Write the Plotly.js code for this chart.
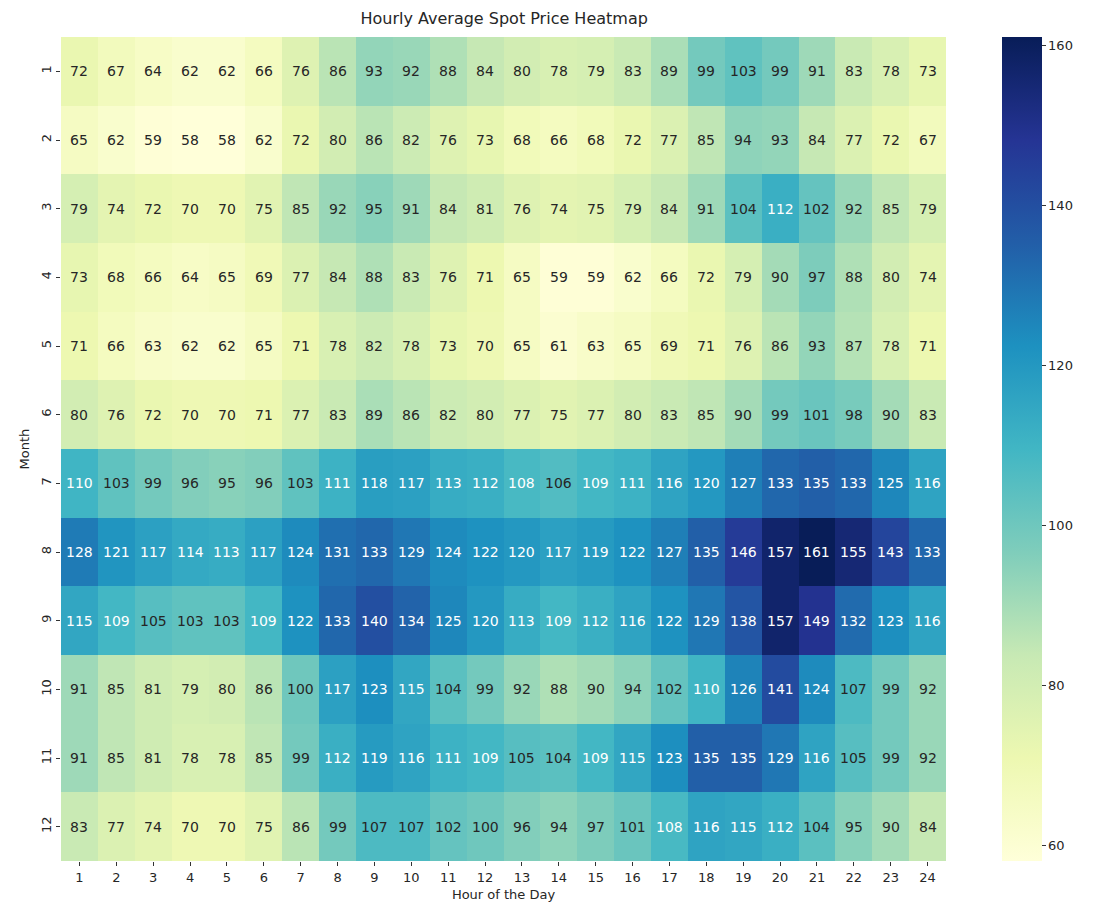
<!DOCTYPE html>
<html>
<head>
<meta charset="utf-8">
<script src="https://cdn.plot.ly/plotly-3.0.1.min.js"></script>
<style>html,body{margin:0;padding:0;background:#fff;}</style>
</head>
<body>
<div id="chart" style="width:1096px;height:918px;"></div>
<script>
const hours = [1,2,3,4,5,6,7,8,9,10,11,12,13,14,15,16,17,18,19,20,21,22,23,24];
const months = [1,2,3,4,5,6,7,8,9,10,11,12];
const m1  = [72,67,64,62,62,66,76,86,93,92,88,84,80,78,79,83,89,99,103,99,91,83,78,73];
const m2  = [65,62,59,58,58,62,72,80,86,82,76,73,68,66,68,72,77,85,94,93,84,77,72,67];
const m3  = [79,74,72,70,70,75,85,92,95,91,84,81,76,74,75,79,84,91,104,112,102,92,85,79];
const m4  = [73,68,66,64,65,69,77,84,88,83,76,71,65,59,59,62,66,72,79,90,97,88,80,74];
const m5  = [71,66,63,62,62,65,71,78,82,78,73,70,65,61,63,65,69,71,76,86,93,87,78,71];
const m6  = [80,76,72,70,70,71,77,83,89,86,82,80,77,75,77,80,83,85,90,99,101,98,90,83];
const m7  = [110,103,99,96,95,96,103,111,118,117,113,112,108,106,109,111,116,120,127,133,135,133,125,116];
const m8  = [128,121,117,114,113,117,124,131,133,129,124,122,120,117,119,122,127,135,146,157,161,155,143,133];
const m9  = [115,109,105,103,103,109,122,133,140,134,125,120,113,109,112,116,122,129,138,157,149,132,123,116];
const m10 = [91,85,81,79,80,86,100,117,123,115,104,99,92,88,90,94,102,110,126,141,124,107,99,92];
const m11 = [91,85,81,78,78,85,99,112,119,116,111,109,105,104,109,115,123,135,135,129,116,105,99,92];
const m12 = [83,77,74,70,70,75,86,99,107,107,102,100,96,94,97,101,108,116,115,112,104,95,90,84];
const z = [m1,m2,m3,m4,m5,m6,m7,m8,m9,m10,m11,m12];

const flat = z.flat();
const zmin = Math.min(...flat), zmax = Math.max(...flat);

const ylgnbu = [
  [0.0, '#ffffd9'], [0.125, '#edf8b1'], [0.25, '#c7e9b4'], [0.375, '#7fcdbb'],
  [0.5, '#41b6c4'], [0.625, '#1d91c0'], [0.75, '#225ea8'], [0.875, '#253494'], [1.0, '#081d58']
];

const annotations = [];
z.forEach((row, i) => {
  row.forEach((v, j) => {
    annotations.push({
      x: hours[j], y: months[i], xref: 'x', yref: 'y',
      text: String(v), showarrow: false,
      font: {family: 'DejaVu Sans', size: 14, color: v >= 107.5 ? '#ffffff' : '#262626'}
    });
  });
});

const trace = {
  type: 'heatmap', x: hours, y: months, z: z,
  colorscale: ylgnbu, zmin: zmin, zmax: zmax,
  xgap: 0, ygap: 0,
  colorbar: {
    x: 1.0633, xanchor: 'left', xref: 'paper', xpad: 0,
    y: 0.5, yanchor: 'middle', len: 1, lenmode: 'fraction', ypad: 0,
    thickness: 40, thicknessmode: 'pixels', outlinewidth: 0,
    ticks: 'outside', ticklen: 4, tickcolor: '#333',
    tickvals: [60, 80, 100, 120, 140, 160],
    tickfont: {family: 'DejaVu Sans', size: 13, color: '#262626'}
  }
};

const layout = {
  width: 1096, height: 918,
  margin: {l: 61, r: 150, t: 37, b: 57, autoexpand: false},
  paper_bgcolor: '#ffffff', plot_bgcolor: '#ffffff',
  title: {text: 'Hourly Average Spot Price Heatmap', x: 0.46, xanchor: 'center', y: 0.98, yanchor: 'middle',
          font: {family: 'DejaVu Sans', size: 16, color: '#262626'}},
  xaxis: {
    title: {text: 'Hour of the Day', font: {family: 'DejaVu Sans', size: 13, color: '#262626'}, standoff: 6},
    tickmode: 'array', tickvals: hours, ticktext: hours.map(String),
    ticks: 'outside', ticklen: 4, tickcolor: '#333', showgrid: false, zeroline: false,
    tickfont: {family: 'DejaVu Sans', size: 13, color: '#262626'},
    range: [0.5, 24.5], showline: false, automargin: false
  },
  yaxis: {
    title: {text: 'Month', font: {family: 'DejaVu Sans', size: 13, color: '#262626'}, standoff: 6},
    tickmode: 'array', tickvals: months, ticktext: months.map(String),
    tickangle: -90,
    ticks: 'outside', ticklen: 4, tickcolor: '#333', showgrid: false, zeroline: false,
    tickfont: {family: 'DejaVu Sans', size: 13, color: '#262626'},
    range: [12.5, 0.5], showline: false, automargin: false
  },
  annotations: annotations
};

Plotly.newPlot('chart', [trace], layout, {displayModeBar: false, responsive: false});
</script>
</body>
</html>
